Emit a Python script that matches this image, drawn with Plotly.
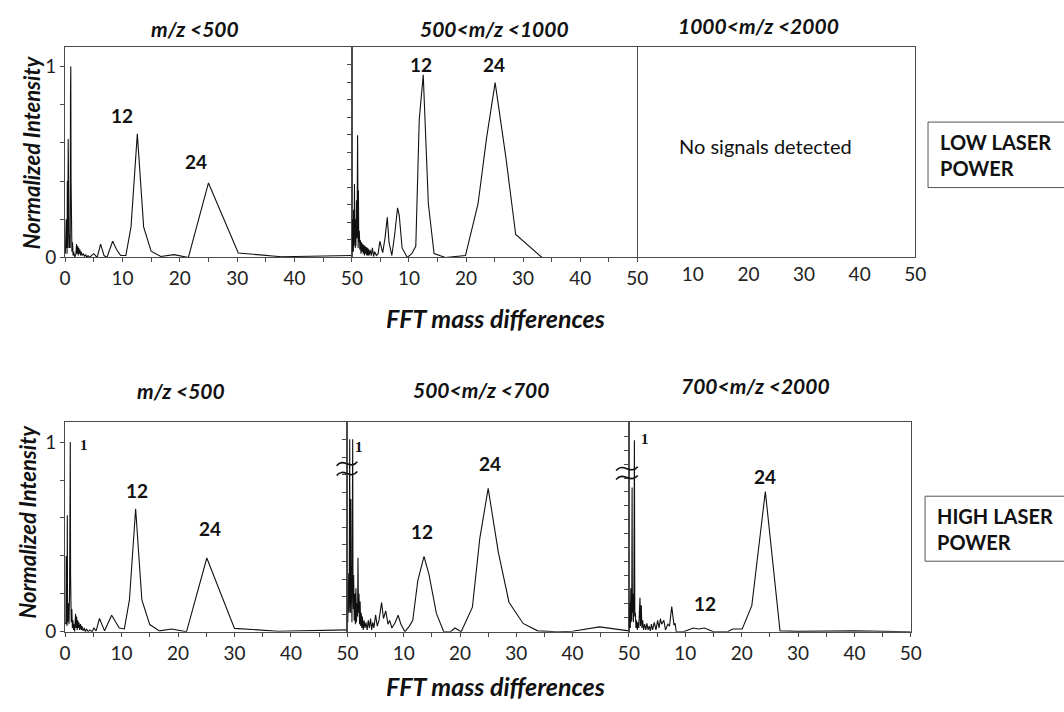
import plotly.graph_objects as go

# ---- FFT spectra (x = mass difference, y = normalized intensity) ----
low_lt500 = [
    (0.05, 0.02), (0.1, 0.12), (0.15, 0.03), (0.2, 0.2), (0.25, 0.05), (0.3, 0.15),
    (0.35, 0.02), (0.4, 0.4), (0.45, 0.05), (0.5, 0.18), (0.55, 0.62), (0.6, 0.1),
    (0.65, 0.3), (0.7, 0.05), (0.8, 0.12), (0.9, 0.05), (0.95, 0.85), (1.0, 1.0),
    (1.05, 0.4), (1.1, 0.1), (1.15, 0.23), (1.2, 0.03), (1.3, 0.08), (1.4, 0.01),
    (1.5, 0.03), (1.7, 0.0), (1.9, 0.02), (2.0, 0.07), (2.1, 0.02), (2.2, 0.06),
    (2.3, 0.01), (2.4, 0.05), (2.5, 0.02), (2.6, 0.04), (2.7, 0.01), (2.8, 0.03),
    (3.0, 0.01), (3.2, 0.02), (3.4, 0.005), (3.6, 0.015), (3.8, 0.0), (4.0, 0.01),
    (4.3, 0.0), (4.6, 0.01), (5.0, 0.02), (5.3, 0.01), (5.6, 0.0), (6.2, 0.07),
    (6.8, 0.01), (7.3, 0.0), (8.3, 0.085), (9.0, 0.04), (9.7, 0.01), (10.6, 0.01),
    (11.5, 0.16), (12.6, 0.647), (13.7, 0.16), (15.0, 0.033), (16.7, 0.005),
    (19.0, 0.015), (21.5, 0.0), (25.0, 0.39), (30.2, 0.023), (37.7, 0.004), (50.0, 0.01),
]

low_500_1000 = [
    (0.05, 0.03), (0.1, 0.2), (0.15, 0.05), (0.2, 0.12), (0.25, 0.03), (0.3, 0.25),
    (0.35, 0.06), (0.4, 0.1), (0.45, 0.385), (0.5, 0.08), (0.55, 0.15), (0.6, 0.05),
    (0.65, 0.2), (0.7, 0.06), (0.8, 0.3), (0.9, 0.1), (1.0, 0.64), (1.05, 0.2),
    (1.1, 0.05), (1.15, 0.35), (1.2, 0.08), (1.3, 0.14), (1.4, 0.04), (1.5, 0.09),
    (1.6, 0.02), (1.7, 0.08), (1.8, 0.03), (1.9, 0.07), (2.0, 0.02), (2.1, 0.065),
    (2.2, 0.01), (2.3, 0.06), (2.4, 0.02), (2.5, 0.055), (2.6, 0.01), (2.7, 0.05),
    (2.8, 0.01), (2.9, 0.045), (3.0, 0.01), (3.2, 0.04), (3.4, 0.01), (3.6, 0.05),
    (3.8, 0.005), (4.0, 0.03), (4.3, 0.01), (4.6, 0.02), (4.9, 0.085), (5.4, 0.025),
    (5.8, 0.1), (6.2, 0.21), (6.5, 0.08), (7.0, 0.01), (7.5, 0.12), (8.0, 0.26),
    (8.3, 0.22), (8.8, 0.05), (9.7, 0.0), (10.5, 0.02), (11.2, 0.06), (11.8, 0.72),
    (12.5, 0.956), (13.4, 0.28), (14.4, 0.02), (16.4, 0.0), (19.9, 0.01), (22.1, 0.28),
    (23.6, 0.626), (25.1, 0.915), (27.0, 0.52), (28.7, 0.12), (33.3, 0.0), (41.0, 0.0),
    (50.0, 0.0),
]

high_lt500 = [
    (0.05, 0.05), (0.1, 0.35), (0.15, 0.04), (0.2, 0.40), (0.25, 0.06), (0.3, 0.2),
    (0.35, 0.03), (0.4, 0.614), (0.45, 0.05), (0.5, 0.25), (0.55, 0.08), (0.6, 0.15),
    (0.7, 0.04), (0.8, 0.2), (0.88, 0.85), (0.93, 1.0), (0.98, 0.3), (1.05, 0.23),
    (1.1, 0.05), (1.2, 0.12), (1.3, 0.02), (1.4, 0.06), (1.5, 0.01), (1.6, 0.04),
    (1.7, 0.0), (1.86, 0.095), (1.95, 0.02), (2.05, 0.08), (2.15, 0.01), (2.25, 0.06),
    (2.35, 0.02), (2.45, 0.05), (2.6, 0.01), (2.75, 0.04), (2.9, 0.01), (3.0, 0.03),
    (3.2, 0.005), (3.4, 0.02), (3.6, 0.0), (3.8, 0.015), (4.1, 0.0), (4.4, 0.01),
    (4.8, 0.0), (5.1, 0.02), (5.5, 0.005), (6.1, 0.07), (7.0, 0.005), (8.25, 0.087),
    (9.6, 0.02), (10.5, 0.015), (11.4, 0.168), (12.5, 0.649), (13.6, 0.168),
    (15.0, 0.038), (16.7, 0.005), (18.9, 0.015), (21.5, 0.0), (25.1, 0.389),
    (30.0, 0.018), (37.7, 0.003), (50.0, 0.01),
]

high_500_700 = [
    (0.05, 0.05), (0.1, 0.3), (0.15, 0.06), (0.23, 0.31), (0.3, 0.1), (0.35, 0.6),
    (0.4, 1.015), (0.45, 0.2), (0.5, 0.45), (0.55, 0.1), (0.6, 0.7), (0.65, 0.15),
    (0.7, 0.35), (0.8, 0.05), (0.88, 0.5), (0.93, 1.015), (0.98, 0.25), (1.05, 0.12),
    (1.1, 0.3), (1.2, 0.06), (1.3, 0.2), (1.4, 0.04), (1.5, 0.23), (1.6, 0.05),
    (1.7, 0.15), (1.8, 0.08), (1.87, 0.39), (1.95, 0.1), (2.05, 0.2), (2.15, 0.04),
    (2.25, 0.16), (2.35, 0.03), (2.45, 0.1), (2.55, 0.02), (2.65, 0.08), (2.8, 0.01),
    (2.95, 0.06), (3.1, 0.02), (3.3, 0.05), (3.5, 0.01), (3.7, 0.06), (3.9, 0.02),
    (4.1, 0.07), (4.3, 0.01), (4.5, 0.05), (4.7, 0.02), (5.0, 0.09), (5.3, 0.03),
    (5.6, 0.06), (6.06, 0.154), (6.4, 0.07), (6.8, 0.11), (7.2, 0.04), (7.5, 0.06),
    (7.9, 0.02), (8.5, 0.05), (9.0, 0.087), (9.5, 0.04), (10.2, 0.0), (11.0, 0.03),
    (11.6, 0.06), (12.5, 0.27), (13.6, 0.398), (14.5, 0.30), (15.8, 0.097),
    (17.1, 0.0), (18.3, 0.0), (19.1, 0.02), (20.2, 0.0), (22.2, 0.13), (23.5, 0.49),
    (25.0, 0.756), (26.8, 0.42), (28.7, 0.156), (31.2, 0.044), (33.8, 0.005),
    (37.3, 0.0), (40.0, 0.003), (44.8, 0.026), (50.0, 0.005),
]

high_700_2000 = [
    (0.05, 0.02), (0.1, 0.1), (0.15, 0.03), (0.2, 0.15), (0.25, 0.02), (0.3, 0.12),
    (0.35, 0.23), (0.4, 0.05), (0.45, 0.18), (0.5, 0.06), (0.57, 0.76), (0.62, 0.1),
    (0.7, 0.2), (0.8, 0.05), (0.88, 0.15), (0.98, 1.01), (1.05, 0.08), (1.15, 0.1),
    (1.25, 0.02), (1.35, 0.06), (1.5, 0.01), (1.6, 0.05), (1.75, 0.02), (1.97, 0.18),
    (2.05, 0.03), (2.2, 0.14), (2.3, 0.02), (2.45, 0.06), (2.6, 0.01), (2.8, 0.04),
    (3.0, 0.01), (3.2, 0.045), (3.4, 0.01), (3.6, 0.03), (3.8, 0.005), (4.0, 0.04),
    (4.2, 0.01), (4.5, 0.05), (4.8, 0.01), (5.1, 0.06), (5.35, 0.02), (5.6, 0.07),
    (5.8, 0.04), (6.2, 0.06), (6.5, 0.01), (6.9, 0.04), (7.2, 0.03), (7.6, 0.133),
    (8.0, 0.035), (8.2, 0.045), (8.4, 0.0), (9.7, 0.0), (11.4, 0.02), (12.4, 0.015),
    (13.4, 0.02), (15.0, 0.0), (17.5, 0.0), (18.4, 0.015), (20.1, 0.015),
    (21.8, 0.138), (24.2, 0.739), (26.8, 0.005), (30.0, 0.002), (40.0, 0.005),
    (50.0, 0.0),
]

# ---- axis ticks ----
x_tick_vals = [0, 5, 10, 15, 20, 25, 30, 35, 40, 45, 50]
x_tick_text_first = ["0", "", "10", "", "20", "", "30", "", "40", "", "50"]
x_tick_text_next = ["", "", "10", "", "20", "", "30", "", "40", "", "50"]
y_tick_vals = [0, 0.2, 0.4, 0.6, 0.8, 1.0]
y_tick_text = ["0", "", "", "", "", "1"]

# ---- panel titles and labels ----
top_titles = ["m/z <500", "500<m/z <1000", "1000<m/z <2000"]
bottom_titles = ["m/z <500", "500<m/z <700", "700<m/z <2000"]
x_title = "FFT mass differences"
y_title = "Normalized Intensity"
row_labels = ["LOW LASER<br>POWER", "HIGH LASER<br>POWER"]
empty_note = "No signals detected"

W, H = 1064, 712
FONT = "Lato"
INK = "#111111"
AXIS = "#4a4a4a"


def fx(px):
    return px / W


def fy(py):
    return 1 - py / H


# panel boxes in pixels: (left, right, top, bottom, ymax)
panels = [
    (60, 351.5, 47.5, 261.5, 1.103),
    (351.5, 641.5, 47.5, 261.5, 1.103),
    (641.5, 924, 47.5, 261.5, 1.103),
    (60, 347, 429, 641.7, 1.104),
    (347, 633, 429, 641.7, 1.104),
    (633, 919.5, 429, 641.7, 1.104),
]
series = [low_lt500, low_500_1000, None, high_lt500, high_500_700, high_700_2000]

fig = go.Figure()
layout_axes = {}
for i, (l, r, t, b, ymax) in enumerate(panels):
    n = i + 1
    xa = "xaxis" if n == 1 else f"xaxis{n}"
    ya = "yaxis" if n == 1 else f"yaxis{n}"
    xr = "x" if n == 1 else f"x{n}"
    yr = "y" if n == 1 else f"y{n}"
    first_col = i in (0, 3)
    empty = series[i] is None

    layout_axes[xa] = dict(
        domain=[fx(l), fx(r)], anchor=yr, range=[0, 50],
        showline=True, mirror=True, linecolor=AXIS, linewidth=1,
        showgrid=False, zeroline=False,
        tickmode="array", tickvals=x_tick_vals,
        ticktext=x_tick_text_first if first_col else x_tick_text_next,
        ticks="" if empty else "outside", ticklen=4, tickcolor=AXIS,
        tickfont=dict(family=FONT, size=19, color="#222222"),
    )
    if first_col:
        ytv, ytt = y_tick_vals, y_tick_text
    elif i == 1:
        ytv = [round(k * 0.0917, 4) for k in range(1, 12)]
        ytt = [""] * len(ytv)
    elif i == 4:
        ytv = [round(k * 0.092, 4) for k in range(1, 12)]
        ytt = [""] * len(ytv)
    elif i == 5:
        ytv = [round(k * 0.0737, 4) for k in range(1, 15)]
        ytt = [""] * len(ytv)
    else:
        ytv, ytt = [], []
    yax = dict(
        domain=[fy(b), fy(t)], anchor=xr, range=[0, ymax],
        showline=True, mirror=True, linecolor=AXIS, linewidth=1,
        showgrid=False, zeroline=False,
        tickmode="array", tickvals=ytv, ticktext=ytt,
        ticks="" if empty else "outside", ticklen=4, tickcolor=AXIS,
        tickfont=dict(family=FONT, size=19, color="#222222"),
    )
    if empty:
        # left edge is already drawn by the neighbouring frame
        yax.update(mirror=False, side="right")
    layout_axes[ya] = yax
    if empty:
        # no spectrum in this mass window: an empty trace keeps the frame drawn
        fig.add_trace(go.Scatter(x=[], y=[], xaxis=xr, yaxis=yr, mode="lines",
                                 showlegend=False, hoverinfo="skip"))
    else:
        xs = [p[0] for p in series[i]]
        ys = [p[1] for p in series[i]]
        fig.add_trace(go.Scatter(
            x=xs, y=ys, xaxis=xr, yaxis=yr, mode="lines",
            line=dict(color=INK, width=1.1), showlegend=False, hoverinfo="skip",
        ))

annotations = []


def text(px, py, s, size, bold=False, italic=False, family=FONT, xanchor="center", align="center", angle=0):
    if bold:
        s = f"<b>{s}</b>"
    if italic:
        s = f"<i>{s}</i>"
    annotations.append(dict(
        x=fx(px), y=fy(py), xref="paper", yref="paper", text=s, showarrow=False,
        xanchor=xanchor, yanchor="middle", align=align, textangle=angle,
        font=dict(family=family, size=size, color="#111111"),
    ))


# panel titles
for (px, py), s in zip([(192, 29), (496, 29), (765, 26)], top_titles):
    text(px, py, s, 21, bold=True, italic=True)
for (px, py), s in zip([(178, 397), (483, 396), (762, 392)], bottom_titles):
    text(px, py, s, 21, bold=True, italic=True)

# axis titles
text(497, 323, x_title, 25, bold=True, italic=True)
text(497, 697, x_title, 25, bold=True, italic=True)
text(26, 155, y_title, 22, bold=True, italic=True, angle=-90)
text(22, 530, y_title, 22, bold=True, italic=True, angle=-90)

# peak labels
for px, py, s in [(118, 117, "12"), (193, 164, "24"), (422, 66, "12"), (496, 66, "24"),
                  (133, 498, "12"), (207, 537, "24"), (423, 540, "12"), (492, 471, "24"),
                  (710, 613, "12"), (771, 484, "24")]:
    text(px, py, s, 19, bold=True)

# serif "1" markers next to the unit peak
for px, py in [(79, 452), (359, 454), (649, 446)]:
    text(px, py, "1", 15, bold=True, family="Liberation Serif")

text(772, 148, empty_note, 20)

# boxed row labels
text(947, 157, row_labels[0], 20, bold=True, xanchor="left", align="left")
text(944, 537, row_labels[1], 20, bold=True, xanchor="left", align="left")

shapes = [
    dict(type="rect", xref="paper", yref="paper", x0=fx(937), x1=fx(1100), y0=fy(190.5), y1=fy(124),
         line=dict(color="#555555", width=1)),
    dict(type="rect", xref="paper", yref="paper", x0=fx(934), x1=fx(1100), y0=fy(570), y1=fy(504),
         line=dict(color="#555555", width=1)),
]


def wave(x0, x1, yc):
    w = x1 - x0
    path = (f"M {fx(x0)},{fy(yc + 2)} C {fx(x0 + w / 3)},{fy(yc - 7)} "
            f"{fx(x0 + 2 * w / 3)},{fy(yc + 7)} {fx(x1)},{fy(yc - 2)}")
    return dict(type="path", xref="paper", yref="paper", path=path,
                line=dict(color="#111111", width=1.6))


# axis break marks on the broken intensity scale
shapes += [wave(336, 357, 471), wave(336, 357, 481), wave(620, 642, 476), wave(620, 642, 485)]

fig.update_layout(
    width=W, height=H, margin=dict(l=0, r=0, t=0, b=0),
    paper_bgcolor="white", plot_bgcolor="white",
    annotations=annotations, shapes=shapes, showlegend=False,
    **layout_axes,
)

fig.write_html("out.html")
